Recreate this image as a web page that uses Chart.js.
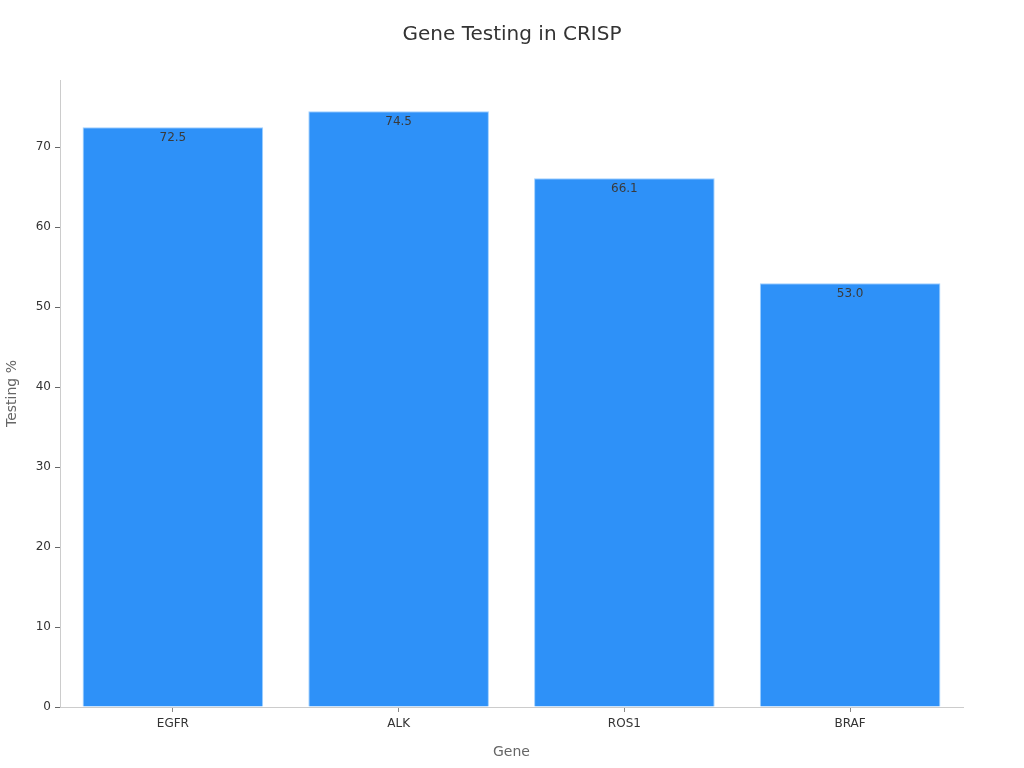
<!DOCTYPE html>
<html>
<head>
<meta charset="utf-8">
<script src="https://cdn.jsdelivr.net/npm/chart.js@4"></script>
<style>
html,body{margin:0;padding:0;background:#fff;}
#wrap{width:1024px;height:768px;}
</style>
</head>
<body>
<div id="wrap"><canvas id="c" width="1024" height="768"></canvas></div>
<script>
const categories = ["EGFR", "ALK", "ROS1", "BRAF"];
const testingValues = [72.5, 74.5, 66.1, 53.0];
const yTickValues = [0, 10, 20, 30, 40, 50, 60, 70];

const FONT = "'DejaVu Sans', sans-serif";

const valueLabels = {
  id: 'valueLabels',
  afterDatasetsDraw(chart) {
    const ctx = chart.ctx;
    const meta = chart.getDatasetMeta(0);
    ctx.save();
    ctx.font = "12px " + FONT;
    ctx.fillStyle = "#3a3a3a";
    ctx.textAlign = "center";
    ctx.textBaseline = "middle";
    meta.data.forEach((bar, i) => {
      ctx.fillText(testingValues[i].toFixed(1), bar.x, bar.y + 11);
    });
    ctx.restore();
  }
};

new Chart(document.getElementById('c'), {
  type: 'bar',
  data: {
    labels: categories,
    datasets: [{
      label: 'Testing %',
      data: testingValues,
      backgroundColor: '#2e91f8',
      borderColor: '#9fd0ff',
      borderWidth: 1,
      barPercentage: 0.8,
      categoryPercentage: 1.0,
      yAxisID: 'y'
    }]
  },
  options: {
    responsive: false,
    animation: false,
    devicePixelRatio: 1,
    layout: { padding: 0 },
    plugins: {
      legend: { display: false },
      tooltip: { enabled: false },
      title: {
        display: true,
        text: 'Gene Testing in CRISP',
        color: '#333333',
        font: { family: FONT, size: 20, weight: 'normal' },
        padding: { top: 23, bottom: 33 }
      }
    },
    scales: {
      x: {
        grid: { display: true, offset: false, drawOnChartArea: false, drawTicks: true, tickLength: 5, color: '#888888' },
        border: { display: true, color: '#cccccc' },
        ticks: { color: '#333333', font: { family: FONT, size: 12 }, padding: 5 },
        title: { display: true, text: 'Gene', color: '#666666', font: { family: FONT, size: 14 }, padding: { top: 0, bottom: 7 } },
        afterFit(scale) { scale.height = 61; }
      },
      y: {
        position: 'left',
        min: 0,
        max: 78.4,
        grid: { display: true, drawOnChartArea: false, drawTicks: true, tickLength: 5, color: '#666666' },
        border: { display: true, color: '#cccccc' },
        ticks: { color: '#333333', font: { family: FONT, size: 12 }, padding: 4 },
        afterBuildTicks(scale) { scale.ticks = yTickValues.map(v => ({ value: v })); },
        title: { display: true, text: 'Testing %', color: '#666666', font: { family: FONT, size: 14 }, padding: { top: 4, bottom: 0 } },
        afterFit(scale) { scale.width = 60; }
      },
      yRight: {
        position: 'right',
        display: true,
        min: 0,
        max: 78.4,
        grid: { display: false, drawTicks: false },
        border: { display: false },
        ticks: { display: false },
        afterFit(scale) { scale.width = 61; }
      }
    }
  },
  plugins: [valueLabels]
});
</script>
</body>
</html>
